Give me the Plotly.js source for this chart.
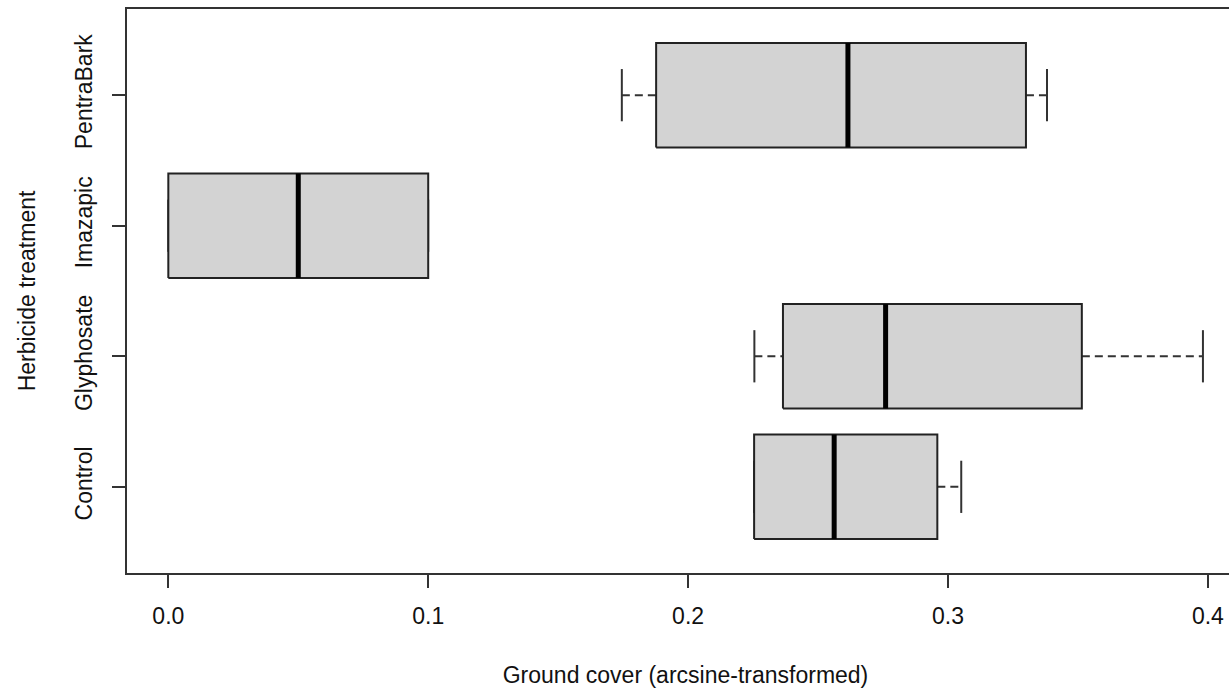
<!DOCTYPE html>
<html>
<head>
<meta charset="utf-8">
<script src="https://cdn.plot.ly/plotly-3.0.1.min.js"></script>
<style>
html, body { margin: 0; padding: 0; overflow: hidden; background: #fff; }
#chart { width: 1260px; height: 693px; }
</style>
</head>
<body>
<div id="chart"></div>
<script>
// Categories (bottom to top)
const categories = ["Control", "Glyphosate", "Imazapic", "PentraBark"];
// Five-number summaries
const lowerWhisker = [0.2254, 0.2255, 0.0000, 0.1745];
const q1           = [0.2254, 0.2365, 0.0000, 0.1877];
const median       = [0.2562, 0.2760, 0.0500, 0.2615];
const q3           = [0.2959, 0.3515, 0.1000, 0.3300];
const upperWhisker = [0.3051, 0.3981, 0.1000, 0.3381];
// Axis ticks
const xTicks = [0.0, 0.1, 0.2, 0.3, 0.4];
const xTickText = ["0.0", "0.1", "0.2", "0.3", "0.4"];

const BOX_HALF = 0.4, CAP_HALF = 0.2;
const positions = categories.map((c, i) => i + 1);

const whiskX = [], whiskY = [], capX = [], capY = [], medX = [], medY = [];
const traces = [];
positions.forEach((p, i) => {
  whiskX.push(lowerWhisker[i], q1[i], null, q3[i], upperWhisker[i], null);
  whiskY.push(p, p, null, p, p, null);
  capX.push(lowerWhisker[i], lowerWhisker[i], null, upperWhisker[i], upperWhisker[i], null);
  capY.push(p - CAP_HALF, p + CAP_HALF, null, p - CAP_HALF, p + CAP_HALF, null);
  medX.push(median[i], median[i], null);
  medY.push(p - BOX_HALF, p + BOX_HALF, null);
});

traces.push({
  type: "scatter", mode: "lines", x: whiskX, y: whiskY,
  line: { color: "#333333", width: 2, dash: "8px,5px" }, hoverinfo: "skip", showlegend: false
});
traces.push({
  type: "scatter", mode: "lines", x: capX, y: capY,
  line: { color: "#333333", width: 2 }, hoverinfo: "skip", showlegend: false
});
positions.forEach((p, i) => {
  traces.push({
    type: "scatter", mode: "lines",
    x: [q1[i], q3[i], q3[i], q1[i], q1[i]],
    y: [p - BOX_HALF, p - BOX_HALF, p + BOX_HALF, p + BOX_HALF, p - BOX_HALF],
    fill: "toself", fillcolor: "#d3d3d3",
    line: { color: "#222222", width: 2 }, name: categories[i], showlegend: false
  });
});
traces.push({
  type: "scatter", mode: "lines", x: medX, y: medY,
  line: { color: "#000000", width: 5 }, hoverinfo: "skip", showlegend: false
});

const font = { family: "Liberation Sans, Arial, sans-serif", size: 23, color: "#111111" };

const layout = {
  width: 1260, height: 693,
  margin: { l: 127, r: 16, t: 9, b: 120 },
  paper_bgcolor: "#ffffff", plot_bgcolor: "#ffffff",
  font: font,
  showlegend: false,
  xaxis: {
    range: [-0.0159, 0.4139], autorange: false,
    tickvals: xTicks, ticktext: xTickText,
    ticks: "outside", ticklen: 13, tickwidth: 2, tickcolor: "#333333",
    showline: true, linecolor: "#333333", linewidth: 2, mirror: true,
    showgrid: false, zeroline: false,
    tickfont: font, ticklabelstandoff: 8,
    title: { text: "Ground cover (arcsine-transformed)", font: font, standoff: 39 }
  },
  yaxis: {
    range: [0.34, 4.66], autorange: false,
    tickvals: positions, ticktext: categories, tickangle: -90,
    ticks: "outside", ticklen: 13, tickwidth: 2, tickcolor: "#333333",
    showline: true, linecolor: "#333333", linewidth: 2, mirror: true,
    showgrid: false, zeroline: false,
    tickfont: font, ticklabelstandoff: 11,
    title: { text: "Herbicide treatment", font: font, standoff: 29 }
  }
};

Plotly.newPlot("chart", traces, layout, { displayModeBar: false, staticPlot: true });
</script>
</body>
</html>
